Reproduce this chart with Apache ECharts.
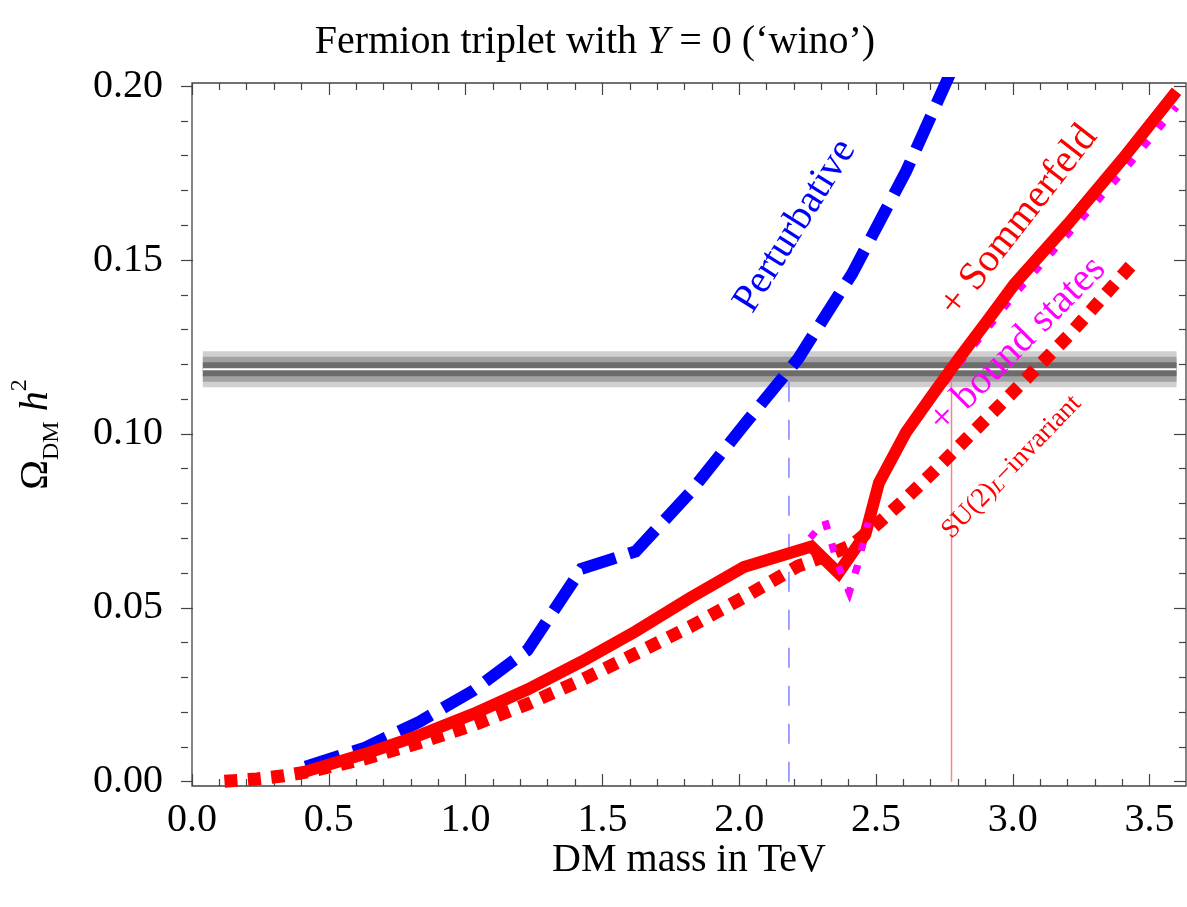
<!DOCTYPE html>
<html><head><meta charset="utf-8">
<script src="https://cdn.jsdelivr.net/npm/echarts@6/dist/echarts.min.js"></script>
<style>html,body{margin:0;padding:0;background:#fff}#c{width:1187px;height:907px}</style>
</head><body><div id="c"></div>
<script>
// ---------------- data ----------------
const xTickLabels = ['0.0','0.5','1.0','1.5','2.0','2.5','3.0','3.5'];
const yTickLabels = ['0.00','0.05','0.10','0.15','0.20'];

const massPert  = [0.38, 0.6, 0.8, 1.0, 1.2, 1.4, 1.6, 1.8, 2.0, 2.2, 2.4, 2.6, 2.8, 2.85];
const omegaPert = [0.0043, 0.0098, 0.0172, 0.0262, 0.0378, 0.0612, 0.0662, 0.0830, 0.1025, 0.1215, 0.1460, 0.1755, 0.210, 0.218];

const massSomm  = [0.35, 0.4, 0.6, 0.8, 1.0, 1.2, 1.4, 1.6, 1.8, 2.0, 2.25, 2.35, 2.45, 2.5, 2.6, 2.7, 2.8, 2.9, 3.0, 3.2, 3.4, 3.6];
const omegaSomm = [0.0022, 0.0034, 0.0080, 0.0133, 0.0195, 0.0265, 0.0345, 0.0432, 0.0528, 0.0617, 0.0676, 0.0600, 0.0712, 0.0860, 0.1005, 0.1115, 0.1222, 0.1325, 0.1430, 0.1605, 0.1790, 0.1985];

const massBound  = [0.35, 0.4, 0.6, 0.8, 1.0, 1.2, 1.4, 1.6, 1.8, 2.0, 2.2, 2.3, 2.35, 2.39, 2.42, 2.46, 2.5, 2.6, 2.7, 2.8, 2.9, 3.0, 3.2, 3.4, 3.6];
const omegaBound = [0.0022, 0.0034, 0.0080, 0.0133, 0.0195, 0.0265, 0.0345, 0.0432, 0.0528, 0.0617, 0.0660, 0.0750, 0.0620, 0.0545, 0.0620, 0.0745, 0.0855, 0.1000, 0.1104, 0.1205, 0.1302, 0.1400, 0.1575, 0.1752, 0.1940];

const massSU2  = [0.08, 0.2, 0.3, 0.4, 0.6, 0.8, 1.0, 1.2, 1.4, 1.6, 1.8, 2.0, 2.2, 2.3, 2.4, 2.5, 2.6, 2.7, 2.8, 3.0, 3.2, 3.45];
const omegaSU2 = [0.0001, 0.0008, 0.0017, 0.0030, 0.0066, 0.0112, 0.0163, 0.0223, 0.0292, 0.0368, 0.0445, 0.0530, 0.0620, 0.0648, 0.0680, 0.0745, 0.0815, 0.0890, 0.0968, 0.1124, 0.1282, 0.1500];

const bandCenter = 0.1186;
const bandHalfWidths = [0.0052, 0.0036, 0.0020];
const bandMassRange = [0.0, 3.6];
const crossMassPert = 2.167;
const crossMassSomm = 2.768;

// ---------------- helpers ----------------
const zip = (a, b) => a.map((v, i) => [v, b[i]]);
const FONT = 'Liberation Serif';
const AX = '#444';

const bandColors = ['#cfcfcf', '#a2a2a2', '#6c6c6c'];

const chart = echarts.init(document.getElementById('c'), null, {renderer: 'canvas'});

const hiddenAxis = {show: true, axisLine: {show: false}, axisTick: {show: false}, axisLabel: {show: false}, splitLine: {show: false}};

const option = {
  animation: false,
  backgroundColor: '#fff',
  grid: [
    {left: 181, right: 1, top: 83, bottom: 121, show: true, borderColor: AX, borderWidth: 1.3, backgroundColor: 'transparent'},
    {left: 192, right: 37.4, top: 83, bottom: 121},
    {left: 181, right: 1, top: 86.1, bottom: 125.3}
  ],
  xAxis: [
    Object.assign({}, hiddenAxis, {gridIndex: 0, type: 'value', min: -0.04, max: 3.635,
      name: 'DM mass in TeV', nameLocation: 'middle', nameGap: 54,
      nameTextStyle: {fontFamily: FONT, fontSize: 40, color: '#000'}}),
    {gridIndex: 1, type: 'value', position: 'bottom', min: 0, max: 3.5, interval: 0.5,
      axisLine: {show: false}, splitLine: {show: false},
      axisTick: {show: true, inside: true, length: 12, lineStyle: {color: AX, width: 1.2}},
      minorTick: {show: true, splitNumber: 5, length: 7, lineStyle: {color: AX, width: 1.2}},
      axisLabel: {show: true, margin: 14, fontFamily: FONT, fontSize: 40, color: '#000',
        formatter: v => xTickLabels[Math.round(v / 0.5)]}},
    {gridIndex: 1, type: 'value', position: 'top', min: 0, max: 3.5, interval: 0.5,
      axisLine: {show: false}, splitLine: {show: false},
      axisTick: {show: true, inside: true, length: 12, lineStyle: {color: AX, width: 1.2}},
      minorTick: {show: true, splitNumber: 5, length: 7, lineStyle: {color: AX, width: 1.2}},
      axisLabel: {show: false}},
    Object.assign({}, hiddenAxis, {gridIndex: 2, type: 'value', min: 0, max: 1})
  ],
  yAxis: [
    Object.assign({}, hiddenAxis, {gridIndex: 0, type: 'value', min: -0.00124, max: 0.2009,
      name: '{o|Ω}{s|DM}{h| h}{p|2}', nameLocation: 'middle', nameGap: 128, nameRotate: 90,
      nameTextStyle: {fontFamily: FONT, color: '#000', rich: {
        o: {fontFamily: FONT, fontSize: 40, lineHeight: 56, color: '#000'},
        s: {fontFamily: FONT, fontSize: 24, lineHeight: 30, verticalAlign: 'bottom', color: '#000'},
        h: {fontFamily: FONT, fontSize: 40, fontStyle: 'italic', color: '#000'},
        p: {fontFamily: FONT, fontSize: 24, lineHeight: 40, verticalAlign: 'top', color: '#000'}
      }}}),
    Object.assign({}, hiddenAxis, {gridIndex: 1, type: 'value', min: 0, max: 1}),
    {gridIndex: 2, type: 'value', position: 'left', min: 0, max: 0.2, interval: 0.05,
      axisLine: {show: false}, splitLine: {show: false},
      axisTick: {show: true, inside: true, length: 12, lineStyle: {color: AX, width: 1.2}},
      minorTick: {show: true, splitNumber: 5, length: 7, lineStyle: {color: AX, width: 1.2}},
      axisLabel: {show: true, margin: 18, fontFamily: FONT, fontSize: 40, color: '#000',
        formatter: v => yTickLabels[Math.round(v / 0.05)]}},
    {gridIndex: 2, type: 'value', position: 'right', min: 0, max: 0.2, interval: 0.05,
      axisLine: {show: false}, splitLine: {show: false},
      axisTick: {show: true, inside: true, length: 12, lineStyle: {color: AX, width: 1.2}},
      minorTick: {show: true, splitNumber: 5, length: 7, lineStyle: {color: AX, width: 1.2}},
      axisLabel: {show: false}}
  ],
  series: [
    {type: 'line', xAxisIndex: 0, yAxisIndex: 0, data: [], silent: true,
      markArea: {silent: true, data: bandHalfWidths.map((h, i) => [
        {coord: [bandMassRange[0], bandCenter - h], itemStyle: {color: bandColors[i], opacity: 1}},
        {coord: [bandMassRange[1], bandCenter + h]}])}},
    {type: 'line', xAxisIndex: 0, yAxisIndex: 0, symbol: 'none', silent: true,
      data: [[bandMassRange[0], bandCenter], [bandMassRange[1], bandCenter]],
      lineStyle: {color: '#ffffff', width: 2}},
    {type: 'line', xAxisIndex: 0, yAxisIndex: 0, symbol: 'none', silent: true,
      data: [[crossMassPert, 0], [crossMassPert, bandCenter]],
      lineStyle: {color: '#8080ff', width: 1.5, type: [20, 18]}},
    {type: 'line', xAxisIndex: 0, yAxisIndex: 0, symbol: 'none', silent: true,
      data: [[crossMassSomm, 0], [crossMassSomm, bandCenter]],
      lineStyle: {color: '#ff8080', width: 1.5}},
    {type: 'line', xAxisIndex: 0, yAxisIndex: 0, symbol: 'none', silent: true,
      data: zip(massPert, omegaPert),
      lineStyle: {color: '#0000ff', width: 12, type: [36, 14], cap: 'butt', join: 'miter'}},
    {type: 'line', xAxisIndex: 0, yAxisIndex: 0, symbol: 'none', silent: true,
      data: zip(massBound, omegaBound),
      lineStyle: {color: '#ff00ff', width: 7, type: [8, 15.7], cap: 'butt', join: 'miter'}},
    {type: 'line', xAxisIndex: 0, yAxisIndex: 0, symbol: 'none', silent: true,
      data: zip(massSomm, omegaSomm),
      lineStyle: {color: '#ff0000', width: 12, cap: 'butt', join: 'miter'}},
    {type: 'line', xAxisIndex: 0, yAxisIndex: 0, symbol: 'none', silent: true,
      data: zip(massSU2, omegaSU2),
      lineStyle: {color: '#ff0000', width: 13, type: [13, 10.5], cap: 'butt', join: 'miter'}},
    {type: 'line', xAxisIndex: 0, yAxisIndex: 0, symbol: 'none', silent: true,
      data: zip(massBound, omegaBound).filter(p => p[0] > 2.2 && p[0] < 2.5),
      lineStyle: {color: '#ff00ff', width: 7, type: [8, 15.7], cap: 'butt', join: 'miter'}}
  ]
};
chart.setOption(option);

// ---------------- annotations (positioned in data coordinates) ----------------
const annotations = [
  {text: 'Perturbative', at: [2.190, 0.1598], angle: 58, color: '#0000ff', size: 40},
  {text: '+ Sommerfeld', at: [3.017, 0.1612], angle: 52, color: '#ff0000', size: 40},
  {text: '+ bound states', at: [3.013, 0.1256], angle: 45, color: '#ff00ff', size: 40},
  {text: 'SU(2){s|L}−invariant', at: [2.990, 0.0905], angle: 46, color: '#ff0000', size: 27}
];
const graphics = annotations.map(a => {
  const p = chart.convertToPixel({gridIndex: 0}, a.at);
  return {type: 'text', x: p[0], y: p[1], rotation: a.angle * Math.PI / 180, silent: true, z: 100,
    style: {text: a.text, fontFamily: FONT, fontSize: a.size, fill: a.color, align: 'center', verticalAlign: 'middle',
      rich: {s: {fontFamily: FONT, fontSize: 19, fontStyle: 'italic', fill: a.color, verticalAlign: 'bottom', lineHeight: 23}}}};
});
graphics.push({type: 'text', x: 595, y: 42, silent: true,
  style: {text: '{n|Fermion triplet with }{i|Y}{n| = 0 (‘wino’)}', align: 'center', verticalAlign: 'middle',
    fontFamily: FONT, fontSize: 40, fill: '#000',
    rich: {n: {fontFamily: FONT, fontSize: 40, fill: '#000'}, i: {fontFamily: FONT, fontSize: 40, fontStyle: 'italic', fill: '#000'}}}});
chart.setOption({graphic: graphics});
</script></body></html>
